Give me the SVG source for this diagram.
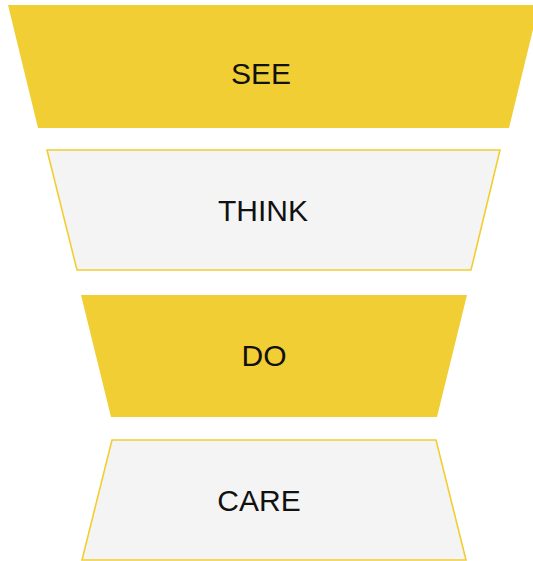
<svg xmlns="http://www.w3.org/2000/svg" width="533" height="561" viewBox="0 0 533 561">
<style>
.y{fill:#F1CE33;}
.g{fill:#F4F4F4;stroke:#F1CE33;stroke-width:1.6;}
text{font-family:"Liberation Sans",Arial,sans-serif;font-size:30px;fill:#111;text-anchor:middle;}
</style>
<rect width="533" height="561" fill="#fff"/>
<g id="see"><polygon class="y" points="8,5 539,5 509,128 38,128"/><text x="261" y="84">SEE</text></g>
<g id="think"><polygon class="g" points="47,150 500,150 471,270 77,270"/><text x="263" y="221">THINK</text></g>
<g id="do"><polygon class="y" points="81,295 467,295 437,417 111,417"/><text x="264" y="366">DO</text></g>
<g id="care"><polygon class="g" points="112,440 436,440 466,560 82,560"/><text x="259" y="511">CARE</text></g>
<g id="connectors"></g>
</svg>
